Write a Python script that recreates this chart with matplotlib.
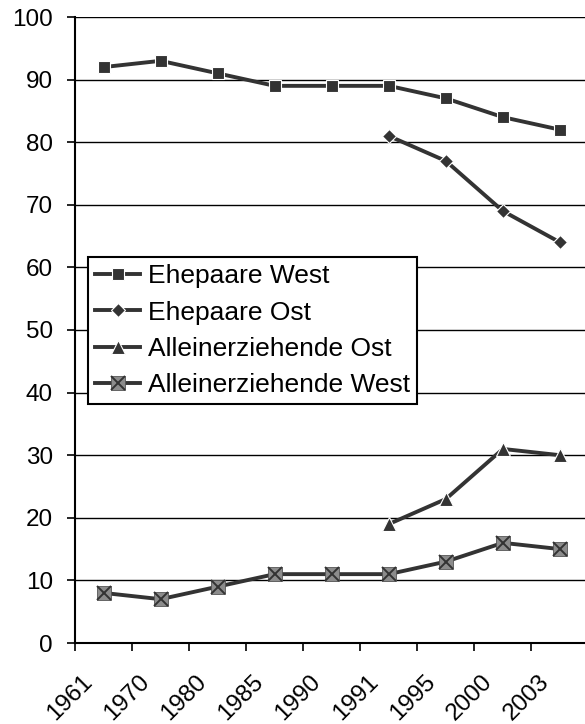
import matplotlib
matplotlib.use("Agg")
import matplotlib.pyplot as plt
import matplotlib.transforms as mtransforms
import numpy as np

plt.rcParams['font.family'] = ['Liberation Sans', 'DejaVu Sans']

# data
years = ["1961", "1970", "1980", "1985", "1990", "1991", "1995", "2000", "2003"]
ehepaare_west = [92, 93, 91, 89, 89, 89, 87, 84, 82]
ehepaare_ost = [np.nan, np.nan, np.nan, np.nan, np.nan, 81, 77, 69, 64]
allein_ost = [np.nan, np.nan, np.nan, np.nan, np.nan, 19, 23, 31, 30]
allein_west = [8, 7, 9, 11, 11, 11, 13, 16, 15]

line_col = '#333333'
fs = 17.5

fig = plt.figure(figsize=(5.85, 7.24), dpi=100)
ax = fig.add_axes([75/585, 1-643/724, 513.5/585, 626/724])

x = np.arange(len(years))
lw = 2.8

h1, = ax.plot(x, ehepaare_west, color=line_col, lw=lw, marker='s', ms=8,
              mfc=line_col, mec='white', mew=0.8, zorder=3)
h2, = ax.plot(x, ehepaare_ost, color=line_col, lw=lw, marker='D', ms=7,
              mfc=line_col, mec='white', mew=0.8, zorder=3)
h3, = ax.plot(x, allein_ost, color=line_col, lw=lw, marker='^', ms=9.5,
              mfc=line_col, mec='white', mew=0.8, zorder=3)
h4, = ax.plot(x, allein_west, color=line_col, lw=lw, marker='s', ms=9.5,
              mfc='#8c8c8c', mec='#555555', mew=0.6, zorder=3)
h4x, = ax.plot(x, allein_west, ls='none', marker='x', ms=9.5,
               mec=line_col, mew=1.4, zorder=4)

ax.set_xlim(-0.5, len(years) - 0.5)
ax.set_ylim(0, 100)
ax.set_yticks(np.arange(0, 101, 10))
ax.yaxis.grid(True, color='black', lw=1.0)
ax.set_axisbelow(True)

for s in ['top', 'right']:
    ax.spines[s].set_visible(False)
for s in ['left', 'bottom']:
    ax.spines[s].set_linewidth(1.5)
    ax.spines[s].set_color('black')

ax.tick_params(axis='y', length=6, width=1.2, pad=10, labelsize=fs)
ax.set_xticks(x)
ax.set_xticklabels(years, rotation=45, ha='right', va='top',
                   rotation_mode='anchor', fontsize=fs)
ax.set_xticks(np.arange(-0.5, len(years), 1.0), minor=True)
ax.tick_params(axis='x', which='major', length=0, pad=20)
ax.tick_params(axis='x', which='minor', length=6, width=1.2)

shift = mtransforms.ScaledTranslation(-0.22, 0, fig.dpi_scale_trans)
for lbl in ax.get_xticklabels():
    lbl.set_transform(lbl.get_transform() + shift)

leg = ax.legend([h1, h2, h3, (h4, h4x)],
                ["Ehepaare West", "Ehepaare Ost", "Alleinerziehende Ost",
                 "Alleinerziehende West"],
                loc='upper left', bbox_to_anchor=(88/585, 1-257/724),
                bbox_transform=fig.transFigure, fontsize=19,
                frameon=True, fancybox=False, framealpha=1,
                edgecolor='black', borderpad=0.27, labelspacing=0.47,
                handlelength=1.7, handletextpad=0.3, borderaxespad=0)
leg.get_frame().set_linewidth(1.5)
leg.set_zorder(5)

fig.savefig("out.png", dpi=100)
